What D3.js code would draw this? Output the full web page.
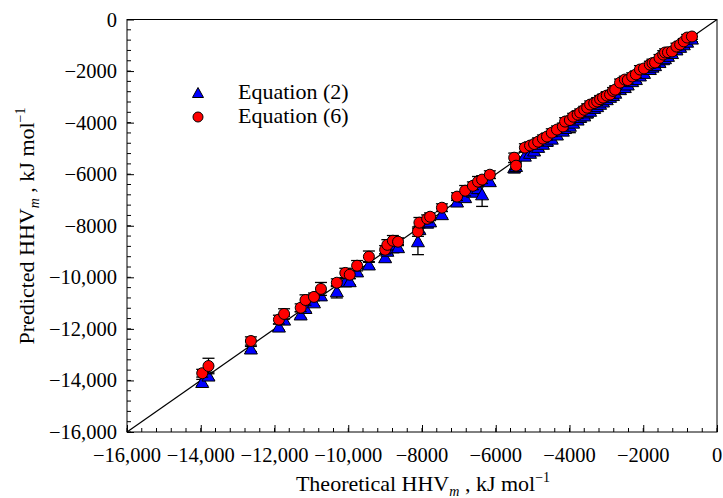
<!DOCTYPE html>
<html>
<head>
<meta charset="utf-8">
<script src="https://cdn.jsdelivr.net/npm/d3@7"></script>
<style>
  html, body { margin: 0; padding: 0; background: #fff; }
  svg { display: block; }
  text { font-family: "Liberation Serif", "Times New Roman", serif; fill: #000; }
</style>
</head>
<body>
<svg id="chart" width="723" height="498"></svg>
<script>
// ---------------- data (kJ/mol) ----------------
const theoretical = [
  -13960, -13790, -12640, -11880, -11740, -11290, -11160, -10930, -10740, -10310,
  -10080, -9960, -9760, -9440, -9000, -8940, -8790, -8650, -8110, -8070,
  -7860, -7780, -7460, -7050, -6830, -6620, -6480, -6370, -6160, -5500,
  -5450, -5210, -5070, -4960, -4850, -4720, -4610, -4480, -4340, -4180,
  -4120, -3990, -3900, -3780, -3710, -3600, -3520, -3440, -3330, -3250,
  -3170, -3090, -2990, -2900, -2820, -2760, -2630, -2500, -2420, -2300,
  -2200, -2090, -1980, -1820, -1750, -1680, -1560, -1460, -1410, -1330,
  -1220, -1100, -1000, -900, -810, -680
];
const eq2Pred = [
  -14080, -13830, -12780, -11930, -11660, -11460, -11210, -10990, -10720, -10560,
  -10180, -10170, -9790, -9520, -9240, -8990, -8860, -8850, -8620, -8150,
  -7900, -7850, -7570, -7080, -6910, -6700, -6560, -6800, -6290, -5750,
  -5700, -5300, -5190, -5100, -4960, -4840, -4720, -4640, -4480, -4330,
  -4230, -4140, -4020, -3900, -3800, -3740, -3620, -3560, -3450, -3380,
  -3290, -3200, -3110, -3020, -2950, -2860, -2720, -2640, -2540, -2410,
  -2330, -2190, -2090, -1940, -1850, -1790, -1670, -1560, -1520, -1430,
  -1320, -1180, -1080, -980, -880, -760
];
const eq2Err = [
  120, 150, 100, 120, 150, 120, 130, 120, 150, 240,
  130, 120, 120, 130, 150, 120, 130, 120, 500, 130,
  120, 120, 130, 120, 130, 120, 120, 450, 130, 200,
  130, 150, 130, 140, 120, 150, 200, 130, 150, 120,
  140, 250, 130, 150, 120, 140, 200, 130, 150, 120,
  140, 130, 150, 120, 140, 130, 150, 120, 130, 140,
  120, 150, 130, 120, 140, 120, 130, 120, 140, 120,
  120, 130, 120, 110, 120, 100
];
const eq6Pred = [
  -13720, -13440, -12470, -11640, -11420, -11180, -10880, -10760, -10450, -10210,
  -9830, -9900, -9550, -9200, -8930, -8740, -8580, -8620, -8230, -7880,
  -7730, -7650, -7300, -6870, -6640, -6450, -6290, -6210, -6020, -5360,
  -5670, -4970, -4890, -4830, -4740, -4620, -4540, -4390, -4270, -4150,
  -3960, -3900, -3770, -3690, -3610, -3500, -3420, -3300, -3240, -3180,
  -3090, -3030, -2950, -2910, -2770, -2720, -2450, -2330, -2350, -2210,
  -2130, -1940, -1900, -1750, -1690, -1670, -1490, -1360, -1280, -1270,
  -1240, -1050, -970, -850, -700, -660
];
const eq6Err = [
  150, 300, 160, 170, 200, 150, 200, 150, 250, 150,
  180, 150, 200, 220, 160, 200, 200, 150, 180, 200,
  150, 150, 150, 150, 200, 150, 200, 150, 150, 180,
  150, 150, 140, 130, 150, 140, 130, 150, 140, 130,
  150, 140, 130, 150, 140, 130, 150, 140, 130, 150,
  140, 130, 150, 140, 130, 150, 140, 130, 150, 140,
  130, 150, 140, 130, 150, 140, 130, 150, 140, 130,
  120, 130, 120, 110, 120, 110
];
const seriesNames = ["Equation (2)", "Equation (6)"];
const xTickValues = [-16000, -14000, -12000, -10000, -8000, -6000, -4000, -2000, 0];
const yTickValues = [-16000, -14000, -12000, -10000, -8000, -6000, -4000, -2000, 0];
const domainMin = -16000, domainMax = 0;

// ---------------- layout ----------------
const svg = d3.select("#chart");
const L = 127, R = 717, T = 19.5, B = 432;
const x = d3.scaleLinear().domain([domainMin, domainMax]).range([L, R]);
const y = d3.scaleLinear().domain([domainMin, domainMax]).range([B, T]);

const fmt = v => {
  if (v === 0) return "0";
  const a = Math.abs(v);
  const s = a >= 10000 ? d3.format(",")(a) : String(a);
  return "\u2212" + s;
};
const minorTicks = d3.range(domainMin, domainMax + 1, 400);

// minor ticks
const g = svg.append("g");
minorTicks.forEach(v => {
  g.append("line").attr("x1", L).attr("x2", L + 4).attr("y1", y(v)).attr("y2", y(v)).attr("stroke", "#000");
  g.append("line").attr("x1", x(v)).attr("x2", x(v)).attr("y1", B).attr("y2", B - 4).attr("stroke", "#000");
});

// major axes via d3 axis (ticks inward)
const xAxis = d3.axisBottom(x).tickValues(xTickValues).tickSize(-7).tickFormat("");
const yAxis = d3.axisLeft(y).tickValues(yTickValues).tickSize(-7).tickFormat("");
svg.append("g").attr("transform", `translate(0,${B})`).call(xAxis)
  .call(s => s.select(".domain").remove());
svg.append("g").attr("transform", `translate(${L},0)`).call(yAxis)
  .call(s => s.select(".domain").remove());

// tick labels
svg.append("g").selectAll("text").data(xTickValues).join("text")
  .attr("x", d => x(d)).attr("y", B + 30)
  .attr("text-anchor", "middle").attr("font-size", 20.5)
  .text(fmt);
svg.append("g").selectAll("text").data(yTickValues).join("text")
  .attr("x", L - 10).attr("y", d => y(d) + 7)
  .attr("text-anchor", "end").attr("font-size", 20.5)
  .text(fmt);

// frame
svg.append("rect").attr("x", L).attr("y", T).attr("width", R - L).attr("height", B - T)
  .attr("fill", "none").attr("stroke", "#000").attr("stroke-width", 1);

// diagonal 1:1 line
svg.append("line")
  .attr("x1", x(domainMin)).attr("y1", y(domainMin))
  .attr("x2", x(domainMax)).attr("y2", y(domainMax))
  .attr("stroke", "#000").attr("stroke-width", 1.2);

const rows = theoretical.map((t, i) => ({
  t, p2: eq2Pred[i], e2: eq2Err[i], p6: eq6Pred[i], e6: eq6Err[i]
}));

const triPath = "M0,-6.5 L6.5,5 L-6.5,5 Z";
const cap = 6;

function errorBars(sel, key, errKey) {
  const eb = sel.append("g").attr("stroke", "#000").attr("stroke-width", 1.3);
  rows.forEach(r => {
    const cx = x(r.t), y1 = y(r[key] - r[errKey]), y2 = y(r[key] + r[errKey]);
    eb.append("line").attr("x1", cx).attr("x2", cx).attr("y1", y1).attr("y2", y2);
    eb.append("line").attr("x1", cx - cap).attr("x2", cx + cap).attr("y1", y1).attr("y2", y1);
    eb.append("line").attr("x1", cx - cap).attr("x2", cx + cap).attr("y1", y2).attr("y2", y2);
  });
}

// Equation (2)
errorBars(svg, "p2", "e2");
svg.append("g").selectAll("path").data(rows).join("path")
  .attr("d", triPath)
  .attr("transform", d => `translate(${x(d.t)},${y(d.p2)})`)
  .attr("fill", "#0000ff").attr("stroke", "#000").attr("stroke-width", 1);

// Equation (6)
errorBars(svg, "p6", "e6");
svg.append("g").selectAll("circle").data(rows).join("circle")
  .attr("cx", d => x(d.t)).attr("cy", d => y(d.p6)).attr("r", 5.5)
  .attr("fill", "#ff0000").attr("stroke", "#000").attr("stroke-width", 1);

// legend
const lg = svg.append("g");
lg.append("path").attr("d", "M0,-5.5 L5.5,4.5 L-5.5,4.5 Z").attr("transform", "translate(198,93)")
  .attr("fill", "#0000ff").attr("stroke", "#000");
lg.append("circle").attr("cx", 198).attr("cy", 117).attr("r", 5)
  .attr("fill", "#ff0000").attr("stroke", "#000");
lg.append("text").attr("x", 238).attr("y", 99).attr("font-size", 22).text(seriesNames[0]);
lg.append("text").attr("x", 238).attr("y", 123).attr("font-size", 22).text(seriesNames[1]);

// axis titles
function title(sel, main) {
  sel.append("tspan").text(main + " HHV");
  sel.append("tspan").attr("font-style", "italic").attr("font-size", 14).attr("dy", 5).text("m");
  sel.append("tspan").attr("dy", -5).text(" , kJ mol");
  sel.append("tspan").attr("font-size", 14).attr("dy", -9).text("\u22121");
}
const xt = svg.append("text").attr("x", 423).attr("y", 491)
  .attr("text-anchor", "middle").attr("font-size", 22);
title(xt, "Theoretical");
const yt = svg.append("text").attr("transform", "translate(34,226) rotate(-90)")
  .attr("text-anchor", "middle").attr("font-size", 22);
title(yt, "Predicted");
</script>
</body>
</html>
